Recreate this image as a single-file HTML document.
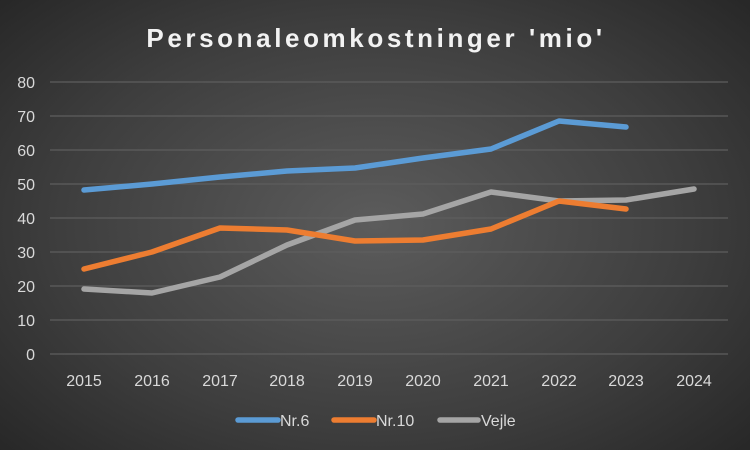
<!DOCTYPE html>
<html><head><meta charset="utf-8"><style>
html,body{margin:0;padding:0}
body{width:750px;height:450px;overflow:hidden;background:radial-gradient(ellipse 70% 75% at 50% 50%,#5c5c5c 0%,#3e3e3e 60%,#262626 100%);font-family:"Liberation Sans",sans-serif}
</style></head><body>
<svg width="750" height="450" xmlns="http://www.w3.org/2000/svg" style="position:absolute;left:0;top:0">
<text x="376" y="47" text-anchor="middle" fill="#f2f2f2" font-size="26" font-weight="bold" letter-spacing="3.6" font-family="Liberation Sans,sans-serif">Personaleomkostninger 'mio'</text>
<g stroke="#5e5e5e" stroke-width="1.2">
<line x1="50" x2="728" y1="82" y2="82"/><line x1="50" x2="728" y1="116" y2="116"/><line x1="50" x2="728" y1="150" y2="150"/><line x1="50" x2="728" y1="184" y2="184"/><line x1="50" x2="728" y1="218" y2="218"/><line x1="50" x2="728" y1="252" y2="252"/><line x1="50" x2="728" y1="286" y2="286"/><line x1="50" x2="728" y1="320" y2="320"/><line x1="50" x2="728" y1="354" y2="354"/>
</g>
<g fill="#d9d9d9" font-size="16" text-anchor="end" font-family="Liberation Sans,sans-serif">
<text x="35" y="88">80</text><text x="35" y="122">70</text><text x="35" y="156">60</text><text x="35" y="190">50</text><text x="35" y="224">40</text><text x="35" y="258">30</text><text x="35" y="292">20</text><text x="35" y="326">10</text><text x="35" y="360">0</text>
</g>
<g fill="#d9d9d9" font-size="16" text-anchor="middle" font-family="Liberation Sans,sans-serif">
<text x="84" y="386">2015</text><text x="152" y="386">2016</text><text x="220" y="386">2017</text><text x="287" y="386">2018</text><text x="355" y="386">2019</text><text x="423" y="386">2020</text><text x="491" y="386">2021</text><text x="559" y="386">2022</text><text x="626" y="386">2023</text><text x="694" y="386">2024</text>
</g>
<g fill="none" stroke-width="5.5" stroke-linejoin="round" stroke-linecap="round">
<polyline stroke="#a5a5a5" points="84,289 152,293 220,277 287,245 355,220 423,214 491,192 559,201 626,200 694,189"/>
<polyline stroke="#ed7d31" points="84,269 152,252 220,228 287,230 355,241 423,240 491,229 559,201 626,209"/>
<polyline stroke="#5b9bd5" points="84,190 152,184 220,177 287,171 355,168 423,158 491,149 559,121 626,127"/>
</g>
<g stroke-width="5.5" stroke-linecap="round">
<line x1="238" x2="278" y1="420" y2="420" stroke="#5b9bd5"/>
<line x1="334" x2="374" y1="420" y2="420" stroke="#ed7d31"/>
<line x1="440" x2="478" y1="420" y2="420" stroke="#a5a5a5"/>
</g>
<g fill="#d9d9d9" font-size="16" font-family="Liberation Sans,sans-serif">
<text x="280" y="426">Nr.6</text><text x="376" y="426">Nr.10</text><text x="481" y="426">Vejle</text>
</g>
</svg>
</body></html>
